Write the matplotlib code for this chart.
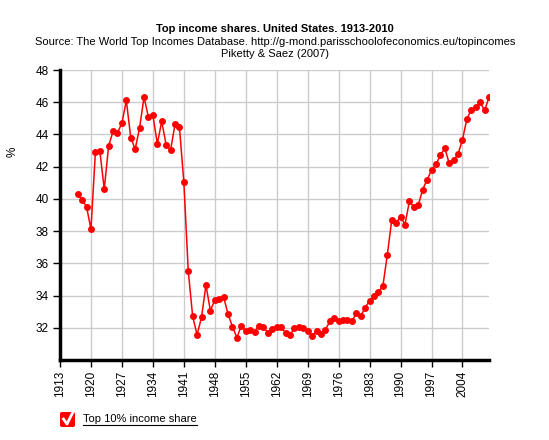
import numpy as np
import matplotlib
matplotlib.use("Agg")
import matplotlib.pyplot as plt
from matplotlib.patches import FancyBboxPatch
from matplotlib.lines import Line2D

plt.rcParams['font.family'] = ['Liberation Sans', 'DejaVu Sans']

# Top 10% income share, United States
years = list(range(1917, 2011))
share = [
    40.32, 39.93, 39.51, 38.12, 42.88, 42.99, 40.61, 43.28, 44.21, 44.10,  # 1917-1926
    44.71, 46.11, 43.80, 43.09, 44.42, 46.32, 45.06, 45.20, 43.42, 44.81,  # 1927-1936
    43.36, 43.03, 44.62, 44.48, 41.04, 35.52, 32.70, 31.56, 32.66, 34.65,  # 1937-1946
    33.07, 33.73, 33.78, 33.90, 32.84, 32.07, 31.39, 32.14, 31.79, 31.85,  # 1947-1956
    31.73, 32.14, 32.06, 31.68, 31.93, 32.06, 32.04, 31.68, 31.56, 31.97,  # 1957-1966
    32.07, 32.01, 31.83, 31.52, 31.81, 31.64, 31.87, 32.39, 32.61, 32.45,  # 1967-1976
    32.47, 32.47, 32.39, 32.91, 32.74, 33.24, 33.69, 33.96, 34.25, 34.58,  # 1977-1986
    36.51, 38.66, 38.52, 38.89, 38.41, 39.84, 39.51, 39.61, 40.57, 41.19,  # 1987-1996
    41.77, 42.14, 42.70, 43.15, 42.22, 42.39, 42.78, 43.67, 44.97, 45.53,  # 1997-2006
    45.68, 45.99, 45.49, 46.30,                                            # 2007-2010
]
x_ticks = list(range(1913, 2010, 7))
y_ticks = [32, 34, 36, 38, 40, 42, 44, 46, 48]

W, H = 549, 440
fig = plt.figure(figsize=(W / 100, H / 100), dpi=100)
ax = fig.add_axes([60 / W, 1 - 360 / H, (489 - 60) / W, (360 - 70) / H])

ax.plot(years, share, color='red', lw=1.1, marker='o', markersize=5,
        markeredgewidth=0, zorder=3)

ax.set_xlim(1913, 2010)
ax.set_ylim(30, 48)
ax.set_xticks(x_ticks)
ax.set_xticklabels([str(t) for t in x_ticks], rotation=90, fontsize=8.5)
ax.set_yticks(y_ticks)
ax.set_yticklabels([str(t) for t in y_ticks], fontsize=8.5)
ax.grid(True, color='#cccccc', lw=1)
ax.set_axisbelow(True)
for s in ['top', 'right']:
    ax.spines[s].set_visible(False)
ax.spines['left'].set_linewidth(2.5)
ax.spines['bottom'].set_linewidth(2.5)
ax.tick_params(length=5, width=1, pad=3)

# titles
fig.text(275 / W, 1 - 29 / H, 'Top income shares. United States. 1913-2010',
         ha='center', va='center', fontsize=8, fontweight='bold')
fig.text(275 / W, 1 - 42 / H,
         'Source: The World Top Incomes Database. http://g-mond.parisschoolofeconomics.eu/topincomes',
         ha='center', va='center', fontsize=8)
fig.text(275 / W, 1 - 54 / H, 'Piketty & Saez (2007)',
         ha='center', va='center', fontsize=8)
fig.text(13 / W, 1 - 152 / H, '%', ha='center', va='center', fontsize=8.5, rotation=90)

# legend: checkbox + underlined label
box = FancyBboxPatch((60 / W, 1 - 427 / H), 15 / W, 15 / H,
                     boxstyle='round,pad=0,rounding_size=0.004',
                     transform=fig.transFigure, facecolor='red', edgecolor='none')
fig.patches.append(box)
fig.lines.append(Line2D([63.5 / W, 67 / W, 72.5 / W],
                        [1 - 419 / H, 1 - 424 / H, 1 - 413 / H],
                        transform=fig.transFigure, color='white', lw=2))
txt = fig.text(83 / W, 1 - 419 / H, 'Top 10% income share', ha='left', va='center', fontsize=8)
fig.canvas.draw()
bb = txt.get_window_extent().transformed(fig.transFigure.inverted())
fig.lines.append(Line2D([bb.x0, bb.x1], [bb.y0 - 1 / H, bb.y0 - 1 / H],
                        transform=fig.transFigure, color='black', lw=0.8))

fig.savefig('out.png', dpi=100)
